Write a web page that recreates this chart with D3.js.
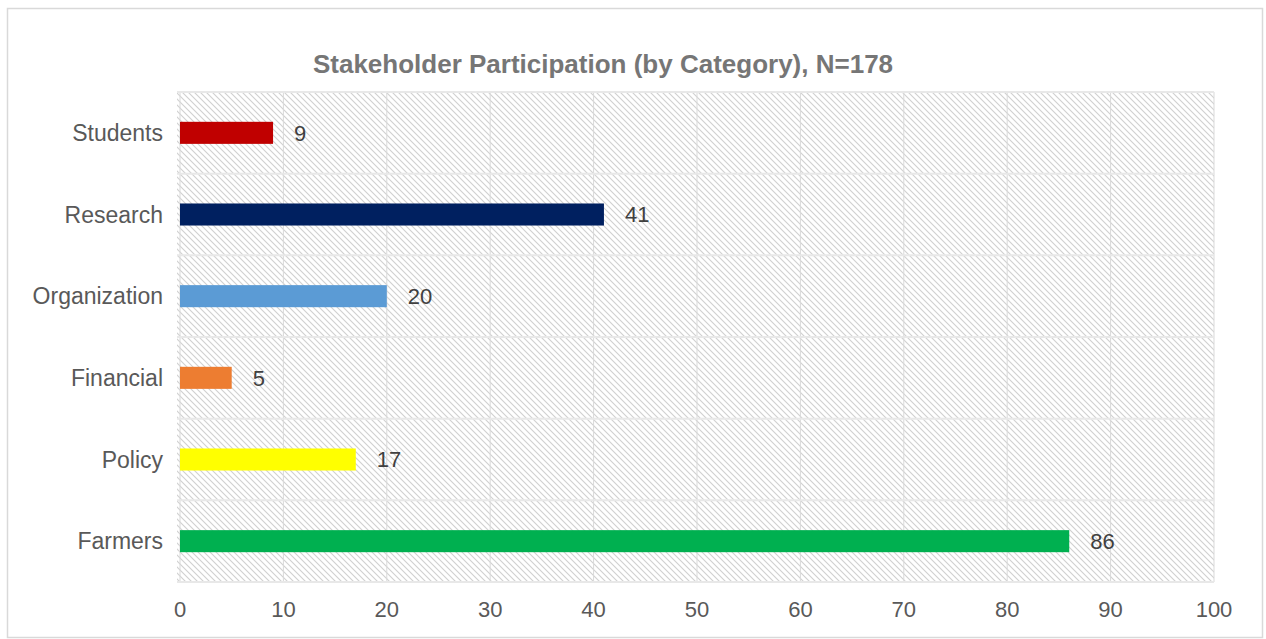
<!DOCTYPE html>
<html><head><meta charset="utf-8">
<script src="https://cdn.jsdelivr.net/npm/d3@7"></script>
<style>body{margin:0;background:#fff;}svg{display:block;font-family:"Liberation Sans",Arial,sans-serif;}</style>
</head><body><svg id="c" width="1266" height="639"></svg>
<script>
const categories = ["Students","Research","Organization","Financial","Policy","Farmers"];
const values = [9,41,20,5,17,86];
const colors = ["#C00000","#002060","#5B9BD5","#ED7D31","#FFFF00","#00B050"];
const xTicks = [0,10,20,30,40,50,60,70,80,90,100];
const title = "Stakeholder Participation (by Category), N=178";

const svg = d3.select("#c");
const m = {left:180, right:1214, top:92, bottom:582};
svg.append("rect").attr("x",7.5).attr("y",8.5).attr("width",1255).attr("height",629)
  .attr("fill","#fff").attr("stroke","#d9d9d9").attr("stroke-width",1.5);

const defs = svg.append("defs");
const pw = 6;
const pat = defs.append("pattern").attr("id","hatch").attr("patternUnits","userSpaceOnUse")
  .attr("width",pw).attr("height",pw);
pat.append("rect").attr("width",pw).attr("height",pw).attr("fill","#fff");
pat.append("path").attr("d",`M0,0L${pw},${pw}M-1,${pw-1}L1,${pw+1}M${pw-1},-1L${pw+1},1`)
  .attr("stroke","#d0d0d0").attr("stroke-width",1.1);

const x = d3.scaleLinear().domain([0,100]).range([m.left,m.right]);
const y = d3.scaleBand().domain(categories).range([m.top,m.bottom]).paddingInner(0.73).paddingOuter(0.365);

svg.append("rect").attr("x",m.left-3).attr("y",m.top).attr("width",m.right-m.left+3).attr("height",m.bottom-m.top)
  .attr("fill","url(#hatch)");

// vertical gridlines
svg.append("g").selectAll("line").data(xTicks).join("line")
  .attr("x1",d=>x(d)).attr("x2",d=>x(d)).attr("y1",m.top).attr("y2",m.bottom)
  .attr("stroke","#d9d9d9").attr("stroke-width",1);
// horizontal band boundaries
const step = (m.bottom-m.top)/categories.length;
svg.append("g").selectAll("line").data(d3.range(categories.length+1)).join("line")
  .attr("x1",m.left-3).attr("x2",m.right).attr("y1",d=>m.top+d*step).attr("y2",d=>m.top+d*step)
  .attr("stroke","#e8e8e8").attr("stroke-width",2);

// bars
svg.append("g").selectAll("rect").data(categories).join("rect")
  .attr("x",x(0)).attr("y",d=>y(d)).attr("height",y.bandwidth())
  .attr("width",(d,i)=>x(values[i])-x(0)).attr("fill",(d,i)=>colors[i]);

// value labels
svg.append("g").selectAll("text").data(categories).join("text")
  .attr("x",(d,i)=>x(values[i])+21).attr("y",d=>y(d)+y.bandwidth()/2).attr("dy","0.35em")
  .attr("font-size",22).attr("fill","#404040").text((d,i)=>values[i]);

// category labels
svg.append("g").selectAll("text").data(categories).join("text")
  .attr("x",163).attr("y",d=>y(d)+y.bandwidth()/2).attr("dy","0.35em").attr("text-anchor","end")
  .attr("font-size",23).attr("fill","#595959").text(d=>d);

// x tick labels
svg.append("g").selectAll("text").data(xTicks).join("text")
  .attr("x",d=>x(d)).attr("y",609).attr("dy","0.35em").attr("text-anchor","middle")
  .attr("font-size",22).attr("fill","#595959").text(d=>d);

svg.append("text").attr("x",603).attr("y",64).attr("dy","0.35em").attr("text-anchor","middle")
  .attr("font-size",26).attr("font-weight","bold").attr("fill","#767676").text(title);
</script></body></html>
